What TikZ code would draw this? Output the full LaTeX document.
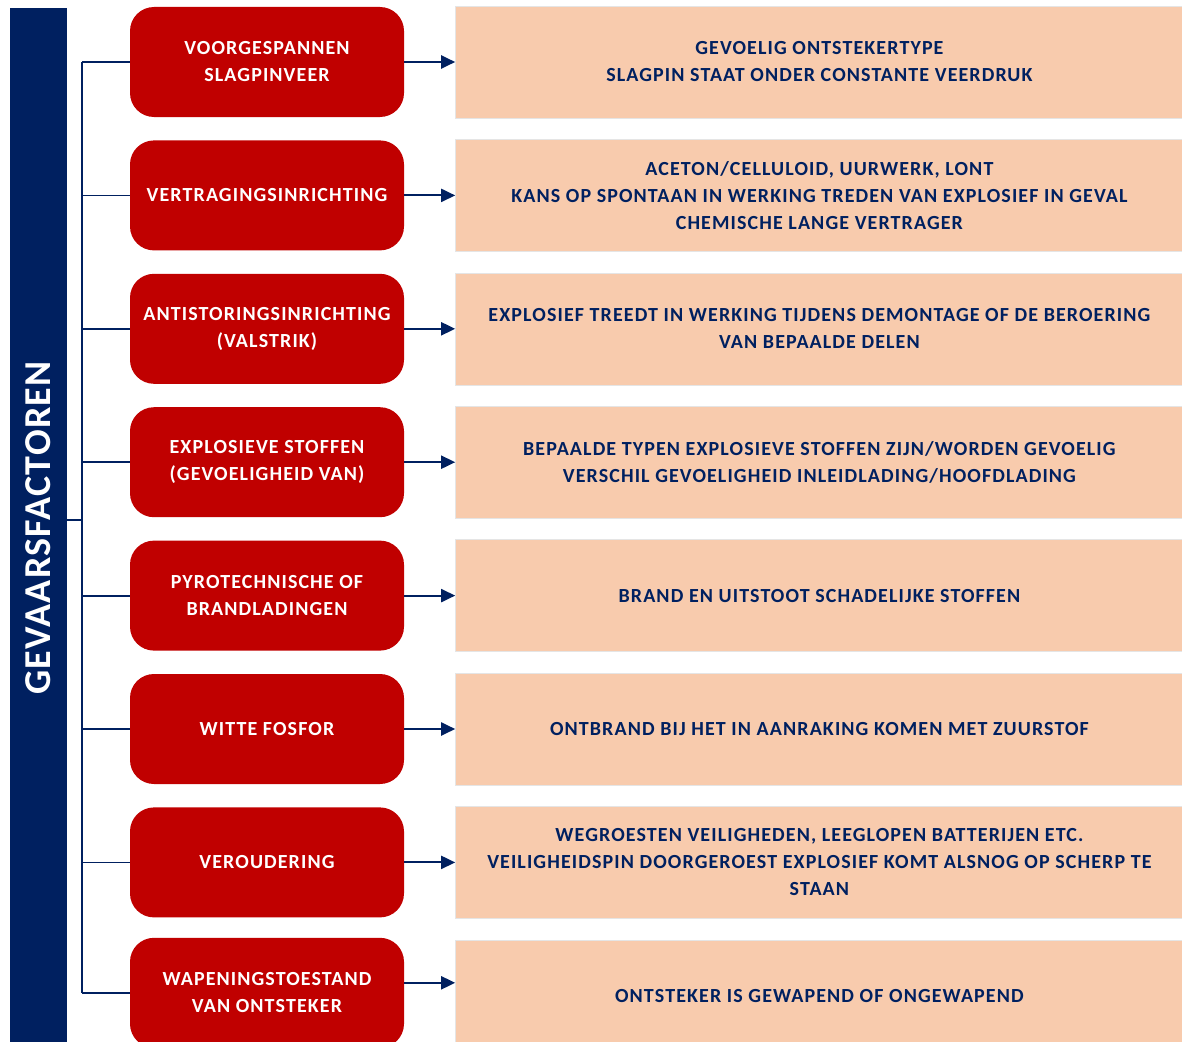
\documentclass[tikz,border=0pt]{standalone}
\usepackage{fontspec}
\setmainfont{Carlito}
\newfontfamily\spacedface{Carlito}[LetterSpace=5.5]
\newfontfamily\titleface{Carlito}[LetterSpace=3.5]
\usepackage{xcolor}
\usetikzlibrary{arrows.meta,positioning}

\definecolor{navyblue}{HTML}{002060}
\definecolor{alarmred}{HTML}{C00000}
\definecolor{peach}{HTML}{F8CBAD}

\begin{document}
\begin{tikzpicture}[
    x=1pt, y=-1pt,
    >={Triangle[length=14pt,width=13pt]},
    boxfont/.style={font=\spacedface\fontsize{20}{27}\selectfont\bfseries},
    factor/.style={boxfont, fill=alarmred, rounded corners=24pt, minimum width=274pt, minimum height=110pt, align=center, text=white, inner sep=0pt},
    descr/.style={boxfont, fill=peach, draw=black!10, minimum width=728pt, minimum height=112pt, align=center, text=navyblue, inner sep=0pt},
    titlebar/.style={fill=navyblue, text=white, minimum width=1040pt, minimum height=57pt, inner sep=0pt, font=\titleface\fontsize{38}{40}\selectfont\bfseries},
    tree/.style={draw=navyblue, line width=1.8pt},
    feed/.style={draw=navyblue, line width=2pt, ->},
]
\useasboundingbox (0,0) rectangle (1182,1041);
\clip (0,0) rectangle (1182,1041);

% Title bar
\node[titlebar, rotate=90] (title) at (38.5,528) {GEVAARSFACTOREN};

% Factors
\node[factor] (f1) at (267,62) {VOORGESPANNEN\\SLAGPINVEER};
\node[factor, below=23pt of f1] (f2) {VERTRAGINGSINRICHTING};
\node[factor, below=23pt of f2] (f3) {ANTISTORINGSINRICHTING\\(VALSTRIK)};
\node[factor, below=23pt of f3] (f4) {EXPLOSIEVE STOFFEN\\(GEVOELIGHEID VAN)};
\node[factor, below=23pt of f4] (f5) {PYROTECHNISCHE OF\\BRANDLADINGEN};
\node[factor, below=23pt of f5] (f6) {WITTE FOSFOR};
\node[factor, below=23pt of f6] (f7) {VEROUDERING};
\node[factor, below=20pt of f7] (f8) {WAPENINGSTOESTAND\\VAN ONTSTEKER};

% Descriptions
\node[descr, right=51pt of f1] (d1) {GEVOELIG ONTSTEKERTYPE\\SLAGPIN STAAT ONDER CONSTANTE VEERDRUK};
\node[descr, below=21pt of d1] (d2) {ACETON/CELLULOID, UURWERK, LONT\\KANS OP SPONTAAN IN WERKING TREDEN VAN EXPLOSIEF IN GEVAL\\CHEMISCHE LANGE VERTRAGER};
\node[descr, below=21pt of d2] (d3) {EXPLOSIEF TREEDT IN WERKING TIJDENS DEMONTAGE OF DE BEROERING\\VAN BEPAALDE DELEN};
\node[descr, below=21pt of d3] (d4) {BEPAALDE TYPEN EXPLOSIEVE STOFFEN ZIJN/WORDEN GEVOELIG\\VERSCHIL GEVOELIGHEID INLEIDLADING/HOOFDLADING};
\node[descr, below=21pt of d4] (d5) {BRAND EN UITSTOOT SCHADELIJKE STOFFEN};
\node[descr, below=21pt of d5] (d6) {ONTBRAND BIJ HET IN AANRAKING KOMEN MET ZUURSTOF};
\node[descr, below=21pt of d6] (d7) {WEGROESTEN VEILIGHEDEN, LEEGLOPEN BATTERIJEN ETC.\\VEILIGHEIDSPIN DOORGEROEST EXPLOSIEF KOMT ALSNOG OP SCHERP TE\\STAAN};
\node[descr, below=21pt of d7] (d8) {ONTSTEKER IS GEWAPEND OF ONGEWAPEND};

% Tree
\coordinate (hub) at ([xshift=15pt]title.south |- 0,520);
\draw[tree] (title.south |- hub) -- (hub);
\draw[tree] (hub |- f1.west) -- (hub |- f8.west);
\draw[tree] (hub |- f1.west) -- (f1.west);
\draw[tree] (hub |- f2.west) -- (f2.west);
\draw[tree] (hub |- f3.west) -- (f3.west);
\draw[tree] (hub |- f4.west) -- (f4.west);
\draw[tree] (hub |- f5.west) -- (f5.west);
\draw[tree] (hub |- f6.west) -- (f6.west);
\draw[tree] (hub |- f7.west) -- (f7.west);
\draw[tree] (hub |- f8.west) -- (f8.west);

% Arrows
\draw[feed] (f1) -- (d1);
\draw[feed] (f2) -- (d2);
\draw[feed] (f3) -- (d3);
\draw[feed] (f4) -- (d4);
\draw[feed] (f5) -- (d5);
\draw[feed] (f6) -- (d6);
\draw[feed] (f7) -- (d7);
\draw[feed] ([yshift=10pt]f8.east) -- ([yshift=10pt]f8.east -| d8.west);

\end{tikzpicture}
\end{document}
